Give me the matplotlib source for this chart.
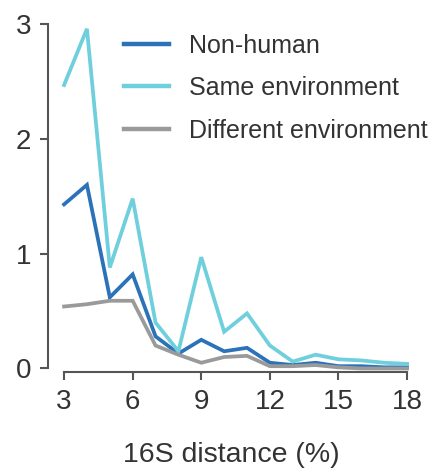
import matplotlib.pyplot as plt

plt.rcParams['font.family'] = ['Liberation Sans', 'DejaVu Sans']

# 16S distance (%)
dist = list(range(3, 19))

non_human = [1.43, 1.60, 0.62, 0.82, 0.28, 0.13, 0.25, 0.15, 0.18, 0.05,
             0.03, 0.05, 0.02, 0.02, 0.01, 0.01]
same_env = [2.47, 2.96, 0.88, 1.48, 0.40, 0.15, 0.97, 0.32, 0.48, 0.20,
            0.06, 0.12, 0.08, 0.07, 0.05, 0.04]
diff_env = [0.54, 0.56, 0.59, 0.59, 0.20, 0.12, 0.05, 0.10, 0.11, 0.02,
            0.02, 0.03, 0.01, 0.00, 0.00, 0.00]

labels = ['Non-human', 'Same environment', 'Different environment']
colors = ['#2b72b9', '#6fcfdc', '#9a9a9a']

fig = plt.figure(figsize=(4.33, 4.75), dpi=100)
ax = fig.add_axes([0.111, 0.217, 0.845, 0.732])

for y, lab, c in zip([non_human, same_env, diff_env], labels, colors):
    ax.plot(dist, y, color=c, lw=2.7, label=lab, clip_on=False,
            solid_joinstyle='miter')

ax.set_xlim(2.3, 18.3)
ax.set_ylim(-0.03, 3.0)
ax.set_xticks([3, 6, 9, 12, 15, 18])
ax.set_yticks([0, 1, 2, 3])

for s in ['top', 'right']:
    ax.spines[s].set_visible(False)
ax.spines['left'].set_bounds(0, 3)
ax.spines['bottom'].set_bounds(3, 18)
for s in ['left', 'bottom']:
    ax.spines[s].set_color('#555555')
    ax.spines[s].set_linewidth(1.5)

ax.tick_params(axis='both', length=6, width=1.5, color='#555555',
               labelsize=20, labelcolor='#333333', pad=6)
ax.set_xlabel('16S distance (%)', fontsize=20.5, color='#333333', labelpad=20)

leg = ax.legend(loc='upper right', bbox_to_anchor=(1.066, 1.002),
                borderaxespad=0, frameon=False, fontsize=18, handlelength=1.8,
                handletextpad=0.8, labelspacing=0.74, labelcolor='#333333')
for h in leg.get_lines():
    h.set_linewidth(3.2)

fig.savefig('out.png', dpi=100)
